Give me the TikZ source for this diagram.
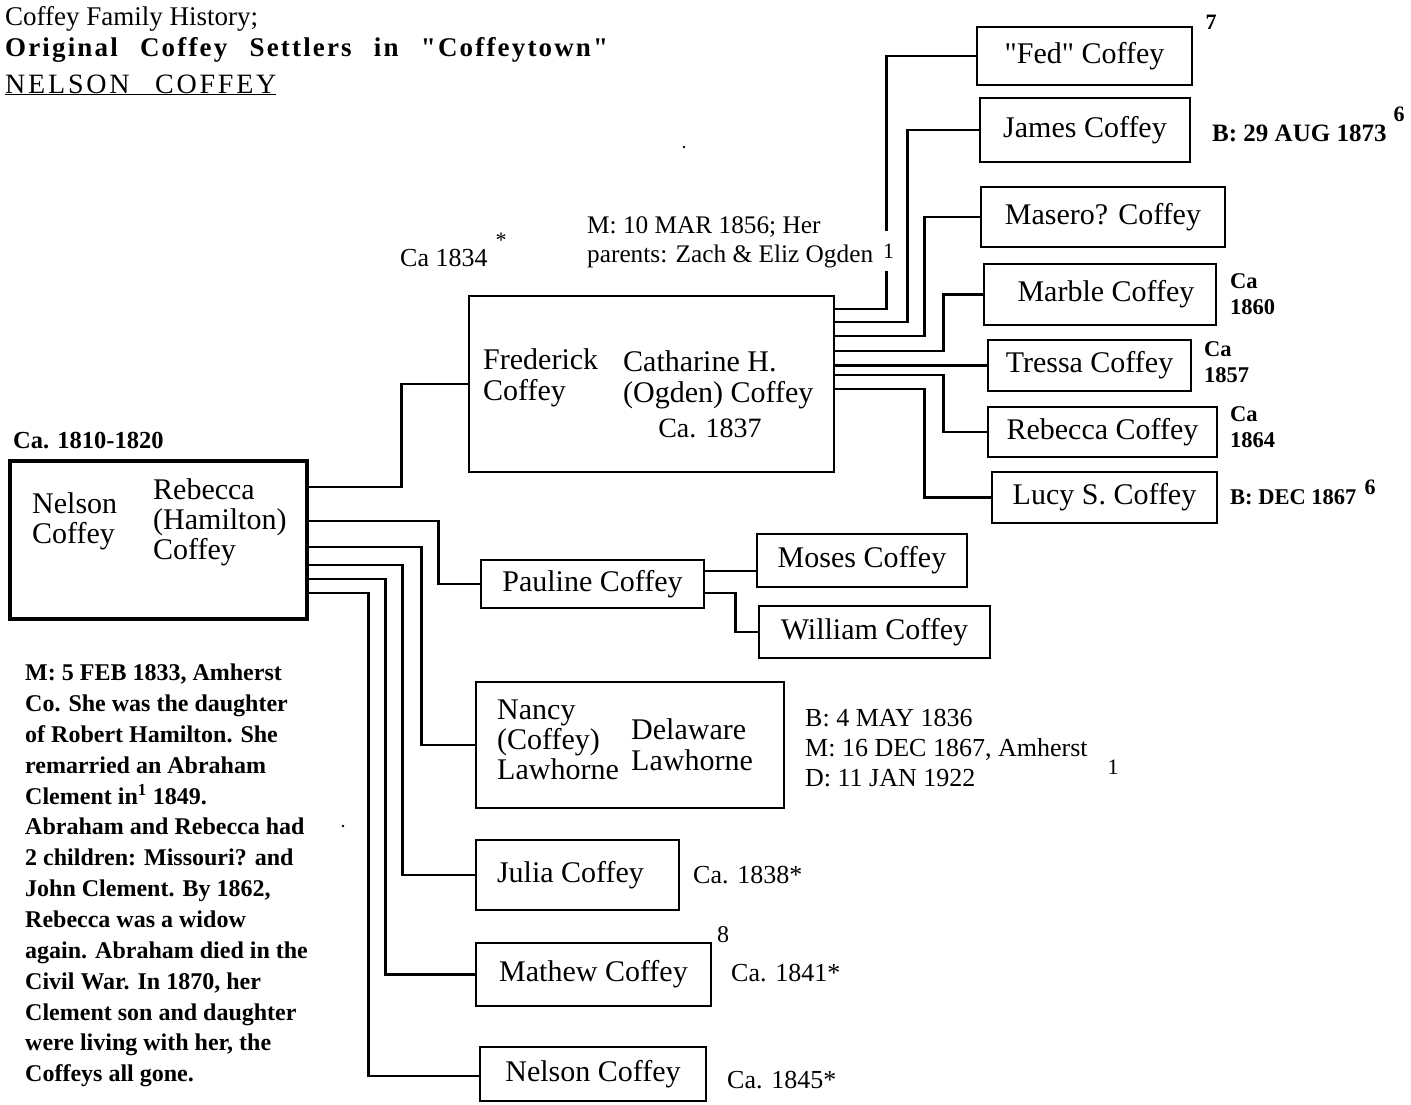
\documentclass[tikz,border=0pt]{standalone}
\usepackage{fontspec}
\setmainfont{Liberation Serif}
\newfontfamily\plainserif{Liberation Serif}
\newfontfamily\spacedfont[LetterSpace=8,WordSpace=2.5]{Liberation Serif}
\newfontfamily\widefont[LetterSpace=10,WordSpace=2.6]{Liberation Serif}
\newcommand\myfs[1]{\fontsize{#1}{#1}\selectfont}
\newcommand\myfsb[2]{\fontsize{#1}{#2}\selectfont}
\begin{document}
\begin{tikzpicture}[x=1pt,y=-1pt,
  pbox/.style={draw, line width=2.8pt, inner sep=0pt, font=\myfs{30}},
  conn/.style={line width=2.8pt},
  txt/.style={anchor=west, inner sep=0pt, align=left},
  note/.style={anchor=west, inner sep=0pt, align=left, font=\myfsb{24}{26}},
  bnote/.style={anchor=west, inner sep=0pt, align=left, font=\bfseries\myfsb{22.5}{26}},
  sup/.style={inner sep=0pt, font=\bfseries\myfs{22}},
]
\useasboundingbox (0,0) rectangle (1411,1104);
\clip (0,0) rectangle (1411,1104);

% ---- title ----
\node[txt, anchor=base west, font=\myfs{27}] (t1) at (5,25) {Coffey Family History;};
\node[txt, anchor=base west, font=\spacedfont\bfseries\myfs{27}] (t2) at (5,56) {Original Coffey Settlers in "Coffeytown"};
\node[txt, anchor=base west, font=\widefont\myfs{28}] (t3) at (5,93) {\underline{NELSON COFFEY}};

% ---- boxes ----
\node[pbox, line width=4.5pt, minimum width=297pt, minimum height=158pt] (nelson) at (158.5,540) {};
\node[pbox, minimum width=365pt, minimum height=176pt] (fred) at (651.5,384) {};
\node[pbox, minimum width=215pt, minimum height=58pt, font=\plainserif\myfs{30}] (fedc) at (1084.5,56) {"Fed" Coffey};
\node[pbox, minimum width=210pt, minimum height=64pt] (james) at (1085,130) {James Coffey};
\node[pbox, minimum width=244pt, minimum height=60pt] (masero) at (1103,217) {Masero? Coffey};
\node[pbox, minimum width=232pt, minimum height=61pt] (marble) at (1100,294.5) {\hspace*{12pt}Marble Coffey};
\node[pbox, minimum width=203pt, minimum height=51pt] (tressa) at (1089.5,365.5) {Tressa Coffey};
\node[pbox, minimum width=229pt, minimum height=50pt] (rebecca) at (1102.5,432) {Rebecca Coffey};
\node[pbox, minimum width=225pt, minimum height=51pt] (lucy) at (1104.5,497.5) {Lucy S. Coffey};
\node[pbox, minimum width=223pt, minimum height=48pt] (pauline) at (592.5,584) {Pauline Coffey};
\node[pbox, minimum width=210pt, minimum height=53pt] (moses) at (862,560.5) {Moses Coffey};
\node[pbox, minimum width=231pt, minimum height=52pt] (william) at (874.5,632) {William Coffey};
\node[pbox, minimum width=308pt, minimum height=126pt] (nancy) at (630,745) {};
\node[pbox, minimum width=203pt, minimum height=70pt] (julia) at (577.5,875) {Julia Coffey\hspace*{14pt}};
\node[pbox, minimum width=235pt, minimum height=63pt] (mathew) at (593.5,974.5) {Mathew Coffey};
\node[pbox, minimum width=226pt, minimum height=54pt] (nelsonjr) at (593,1074) {Nelson Coffey};

% ---- texts inside couple boxes ----
\node[txt, font=\myfsb{30}{30}] (nelsonname) at (32,521) {Nelson\\Coffey};
\node[txt, font=\myfsb{30}{30}] (rebeccaname) at (153,522) {Rebecca\\(Hamilton)\\Coffey};
\node[txt, font=\myfsb{30}{31}] (fredname) at (483,377.5) {Frederick\\Coffey};
\node[txt, font=\myfsb{30}{31}] (cathname) at (623,379.5) {Catharine H.\\(Ogden) Coffey};
\node[inner sep=0pt, font=\myfs{28}] (cathdate) at (710,428) {Ca. 1837};
\node[txt, font=\myfsb{30}{30}] (nancyname) at (497,740) {Nancy\\(Coffey)\\Lawhorne};
\node[txt, font=\myfsb{30}{31}] (delname) at (631,744.5) {Delaware\\Lawhorne};

% ---- connectors from Nelson & Rebecca ----
\draw[conn] ([yshift=53pt]nelson.east) -| ([xshift=-66pt]fred.west) -- (fred.west);
\draw[conn] ([yshift=19pt]nelson.east) -| ([xshift=-41pt]pauline.west) -- (pauline.west);
\draw[conn] ([yshift=-7pt]nelson.east) -| ([xshift=-53pt]nancy.west) -- (nancy.west);
\draw[conn] ([yshift=-25pt]nelson.east) -| ([xshift=-72pt]julia.west) -- (julia.west);
\draw[conn] ([yshift=-39pt]nelson.east) -| ([xshift=-89pt]mathew.west) -- (mathew.west);
\draw[conn] ([yshift=-53pt]nelson.east) -| ([xshift=-110pt,yshift=-2pt]nelsonjr.west) -- ([yshift=-2pt]nelsonjr.west);

% ---- connectors from Frederick & Catharine ----
\draw[conn] ([yshift=75pt]fred.east) -| ([xshift=-89pt]fedc.west) -- (fedc.west);
\draw[conn] ([yshift=62pt]fred.east) -| ([xshift=-71pt]james.west) -- (james.west);
\draw[conn] ([yshift=48pt]fred.east) -| ([xshift=-55pt]masero.west) -- (masero.west);
\draw[conn] ([yshift=33pt]fred.east) -| ([xshift=-39pt]marble.west) -- (marble.west);
\draw[conn] (fred.east |- tressa.west) -- (tressa.west);
\draw[conn] ([yshift=9pt]fred.east) -| ([xshift=-43pt]rebecca.west) -- (rebecca.west);
\draw[conn] ([yshift=-5pt]fred.east) -| ([xshift=-66pt]lucy.west) -- (lucy.west);

% ---- connectors from Pauline ----
\draw[conn] ([yshift=13pt]pauline.east) -- ([yshift=-10.5pt]moses.west);
\draw[conn] ([yshift=-9pt]pauline.east) -| ([xshift=-22pt]william.west) -- (william.west);

% ---- annotations ----
\node[inner sep=0pt, fill=white, minimum height=40pt, minimum width=6pt, font=\myfs{22}] (fedref) at (888.5,251) {1};
\node[note, font=\myfs{26}] (ca1834) at (400,258) {Ca 1834};
\node[inner sep=0pt, font=\myfs{22}] (ca1834star) at (501,240) {*};
\node[note, font=\myfsb{25.3}{29}] (marriage) at (587,242.5) {M: 10 MAR 1856; Her\\parents: Zach \& Eliz Ogden};
\node[sup] (fed7) at (1211,22) {7};
\node[bnote, font=\bfseries\myfs{25}] (jamesb) at (1212,133) {B: 29 AUG 1873};
\node[sup] (james6) at (1399,114) {6};
\node[bnote] (marbleca) at (1230,294) {Ca\\1860};
\node[bnote] (tressaca) at (1204,362) {Ca\\1857};
\node[bnote] (rebeccaca) at (1230,427) {Ca\\1864};
\node[bnote] (lucyb) at (1230,497) {B: DEC 1867};
\node[sup] (lucy6) at (1370,487) {6};
\node[note, font=\bfseries\myfs{24.5}] (nelsonca) at (13,441) {Ca. 1810-1820};
\node[note, font=\bfseries\myfsb{24}{30.85}] (nelsonnote) at (25,875.5) {M: 5 FEB 1833, Amherst\\Co. She was the daughter\\of Robert Hamilton. She\\remarried an Abraham\\Clement in\textsuperscript{1} 1849.\\Abraham and Rebecca had\\2 children: Missouri? and\\John Clement. By 1862,\\Rebecca was a widow\\again. Abraham died in the\\Civil War. In 1870, her\\Clement son and daughter\\were living with her, the\\Coffeys all gone.};
\node[note, font=\myfsb{26}{30}] (nancynote) at (805,748) {B: 4 MAY 1836\\M: 16 DEC 1867, Amherst\\D: 11 JAN 1922};
\node[inner sep=0pt, font=\myfs{22}] (nancyref) at (1113,767) {1};
\node[note, font=\myfs{26}] (juliaca) at (693,875) {Ca. 1838*};
\node[inner sep=0pt, font=\myfs{24}] (mathew8) at (723,935) {8};
\node[note, font=\myfs{26}] (mathewca) at (731,973) {Ca. 1841*};
\node[note, font=\myfs{26}] (nelsonjrca) at (727,1080) {Ca. 1845*};

% stray specks of the original
\fill (684,147) circle (1.4pt);
\fill (343,826) circle (1.4pt);
\end{tikzpicture}
\end{document}
